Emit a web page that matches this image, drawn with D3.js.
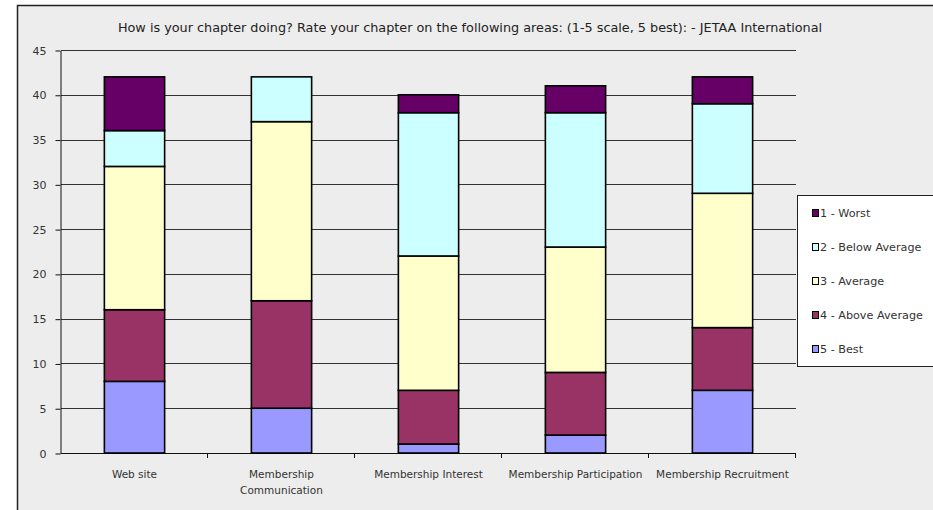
<!DOCTYPE html>
<html>
<head>
<meta charset="utf-8">
<script src="https://cdn.jsdelivr.net/npm/d3@7"></script>
<style>
  body { margin: 0; background: #fff; }
  svg { display: block; font-family: "DejaVu Sans", Verdana, sans-serif; }
</style>
</head>
<body>
<svg width="933" height="510"></svg>
<script>
// categories and series (counts)
var categories = ["Web site", "Membership Communication", "Membership Interest", "Membership Participation", "Membership Recruitment"];
var seriesNames = ["5 - Best", "4 - Above Average", "3 - Average", "2 - Below Average", "1 - Worst"];
var best = [8, 5, 1, 2, 7];
var aboveAvg = [8, 12, 6, 7, 7];
var average = [16, 20, 15, 14, 15];
var belowAvg = [4, 5, 16, 15, 10];
var worst = [6, 0, 2, 3, 3];
var colors = ["#9999ff", "#993366", "#ffffcc", "#ccffff", "#660066"];
var yTicks = [0, 5, 10, 15, 20, 25, 30, 35, 40, 45];

var svg = d3.select("svg");

// chart area background + border
svg.append("rect").attr("x", 17.5).attr("y", 5.5).attr("width", 930).attr("height", 520)
    .attr("fill", "#ededed").attr("stroke", "#222").attr("stroke-width", 1.5);

svg.append("text").attr("x", 470).attr("y", 32).attr("text-anchor", "middle")
    .attr("font-size", 12.8).attr("fill", "#222")
    .text("How is your chapter doing? Rate your chapter on the following areas: (1-5 scale, 5 best):  - JETAA International");

var plotL = 61, plotR = 796, plotT = 50, plotB = 453;

var x = d3.scaleBand().domain(categories).range([plotL, plotR]).paddingInner(0.59).paddingOuter(0.295);
var y = d3.scaleLinear().domain([0, 45]).range([plotB, plotT]);

// gridlines
svg.append("g").selectAll("line").data(yTicks.slice(1)).enter().append("line")
    .attr("x1", plotL).attr("x2", plotR)
    .attr("y1", d => Math.round(y(d)) + 0.5).attr("y2", d => Math.round(y(d)) + 0.5)
    .attr("stroke", "#333").attr("stroke-width", 1);

// y axis
var yAxis = svg.append("g").attr("transform", "translate(" + (plotL - 0.5) + ",0.5)")
    .call(d3.axisLeft(y).tickValues(yTicks).tickSize(5).tickPadding(9).tickSizeOuter(0));
yAxis.select(".domain").attr("stroke", "#111");
yAxis.selectAll(".tick line").attr("stroke", "#111");
yAxis.selectAll("text").attr("font-size", 11).attr("fill", "#333").attr("font-family", "DejaVu Sans, sans-serif");

// x axis (ticks between categories)
var catBounds = d3.range(categories.length + 1).map(i => plotL + i * x.step());
svg.append("line").attr("x1", plotL).attr("x2", plotR).attr("y1", plotB + 0.5).attr("y2", plotB + 0.5)
    .attr("stroke", "#111");
svg.append("g").selectAll("line").data(catBounds.slice(1)).enter().append("line")
    .attr("x1", d => Math.round(d) - 0.5).attr("x2", d => Math.round(d) - 0.5)
    .attr("y1", plotB).attr("y2", plotB + 5).attr("stroke", "#111");

// stacked bars
var rows = categories.map((c, i) => ({cat: c, s0: best[i], s1: aboveAvg[i], s2: average[i], s3: belowAvg[i], s4: worst[i]}));
var stack = d3.stack().keys(["s0", "s1", "s2", "s3", "s4"])(rows);

svg.append("g").selectAll("g").data(stack).enter().append("g")
    .attr("fill", (d, i) => colors[i])
    .selectAll("rect").data(d => d.filter(p => p[1] > p[0])).enter().append("rect")
    .attr("x", d => x(d.data.cat))
    .attr("width", x.bandwidth())
    .attr("y", d => y(d[1]))
    .attr("height", d => y(d[0]) - y(d[1]))
    .attr("stroke", "#000").attr("stroke-width", 1.6);

// category labels
var labelLines = {"Membership Communication": ["Membership", "Communication"]};
svg.append("g").selectAll("text").data(categories).enter().append("text")
    .attr("x", d => x(d) + x.bandwidth() / 2)
    .attr("y", 478)
    .attr("text-anchor", "middle").attr("font-size", 10.5).attr("fill", "#333")
    .each(function(d) {
        var lines = labelLines[d] || [d];
        d3.select(this).selectAll("tspan").data(lines).enter().append("tspan")
            .attr("x", x(d) + x.bandwidth() / 2)
            .attr("dy", (l, i) => i ? 16 : 0)
            .text(l => l);
    });

// legend
var legend = svg.append("g");
legend.append("rect").attr("x", 797.5).attr("y", 195.5).attr("width", 150).attr("height", 171)
    .attr("fill", "#fff").attr("stroke", "#222");
var legendOrder = [4, 3, 2, 1, 0];
var items = legend.selectAll("g.item").data(legendOrder).enter().append("g")
    .attr("transform", (d, i) => "translate(812," + (213 + i * 34) + ")");
items.append("rect").attr("x", 0.5).attr("y", -3.5).attr("width", 6).attr("height", 7)
    .attr("fill", d => colors[d]).attr("stroke", "#000");
items.append("text").attr("x", 8).attr("y", 4).attr("font-size", 11.2).attr("fill", "#333")
    .text(d => seriesNames[d]);
</script>
</body>
</html>
